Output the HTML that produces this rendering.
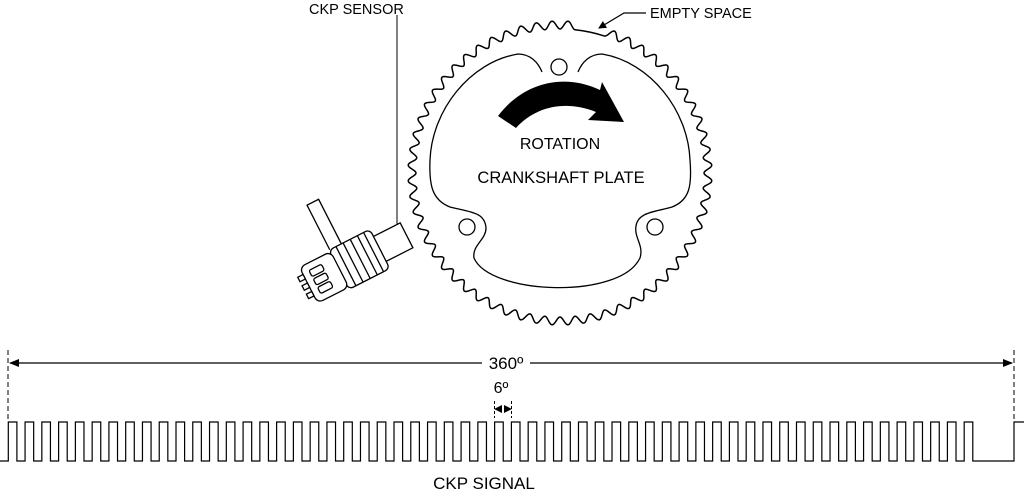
<!DOCTYPE html>
<html><head><meta charset="utf-8"><style>
html,body{margin:0;padding:0;background:#fff;}
svg{display:block;font-family:"Liberation Sans",Arial,sans-serif;}
</style></head><body>
<svg id="s" width="1024" height="495" viewBox="0 0 1024 495" xmlns="http://www.w3.org/2000/svg">
<defs>
<marker id="ah" markerWidth="8" markerHeight="8" refX="7" refY="4" orient="auto" markerUnits="userSpaceOnUse"><path d="M0,0 L8,4 L0,8 z" fill="#000"/></marker>
<marker id="ah2" markerWidth="10" markerHeight="8" refX="9" refY="4" orient="auto" markerUnits="userSpaceOnUse"><path d="M0,0 L10,4 L0,8 z" fill="#000"/></marker>
</defs>
<g fill="none" stroke="#000" stroke-width="1.3">
<path id="gear" stroke-width="1.5"/>
<path d="M542,72 C538,62 530,54 518,54 C470,62 432,110 430,160 C429,185 432,200 450,207 C470,212 485,212 486,228 C486,240 472,245 474,258 C490,295 620,300 640,258 C644,245 634,238 636,226 C638,212 655,212 672,207 C690,200 692,185 690,160 C688,110 650,62 602,54 C590,54 582,62 578,72"/>
<circle cx="559" cy="67" r="8"/>
<circle cx="467" cy="227" r="8"/>
<circle cx="655" cy="227" r="8"/>
<line x1="397" y1="15" x2="397" y2="236" stroke-width="1"/>
<polyline points="646,13 624,13 599,28" stroke-width="1.2" marker-end="url(#ah)"/>
</g>
<path d="M498,116 C522,84 562,72 600,90 L602,82 L624,122 L588,120 L596,112 C566,100 536,106 516,128 Z" fill="#000"/>
<g transform="translate(362,258) rotate(-27)" fill="#fff" stroke="#000" stroke-width="1.3">
<path d="M-25,-22 L-25,-72 L-12,-72 L-12,-22"/>
<rect x="18" y="-14" width="32" height="28"/>
<rect x="-26" y="-22" width="46" height="44" rx="5"/>
<line x1="-18" y1="-22" x2="-18" y2="22"/><line x1="-10" y1="-22" x2="-10" y2="22"/>
<line x1="-2" y1="-22" x2="-2" y2="22"/><line x1="6" y1="-22" x2="6" y2="22"/>
<line x1="13" y1="-22" x2="13" y2="22"/>
<rect x="-60" y="-20" width="35" height="40" rx="6"/>
<rect x="-53" y="-13" width="14" height="7" rx="2"/><rect x="-53" y="-3.5" width="14" height="7" rx="2"/><rect x="-53" y="6" width="14" height="7" rx="2"/>
<rect x="-66" y="-12" width="6" height="5"/><rect x="-66" y="-2.5" width="6" height="5"/><rect x="-66" y="7" width="6" height="5"/>
</g>
<g font-size="14.5" fill="#000">
<text x="309" y="14">CKP SENSOR</text>
<text x="650" y="18">EMPTY SPACE</text>
<text x="560" y="149" text-anchor="middle" font-size="16">ROTATION</text>
<text x="561" y="183" text-anchor="middle" font-size="16.5">CRANKSHAFT PLATE</text>
<text x="484" y="489" text-anchor="middle" font-size="17">CKP SIGNAL</text>
<text x="506" y="369" text-anchor="middle" font-size="17">360º</text>
<text x="501" y="393" text-anchor="middle" font-size="16">6º</text>
</g>
<g fill="none" stroke="#000">
<line x1="8" y1="350" x2="8" y2="422" stroke-dasharray="5,3"/>
<line x1="1014" y1="350" x2="1014" y2="422" stroke-dasharray="5,3"/>
<line x1="482" y1="363" x2="10" y2="363" stroke-width="1.2" marker-end="url(#ah2)"/>
<line x1="530" y1="363" x2="1012" y2="363" stroke-width="1.2" marker-end="url(#ah2)"/>
<line x1="494.5" y1="401" x2="494.5" y2="418" stroke-dasharray="3,2"/>
<line x1="511.5" y1="401" x2="511.5" y2="418" stroke-dasharray="3,2"/>
<line x1="500" y1="409" x2="495" y2="409" marker-end="url(#ah)"/>
<line x1="505" y1="409" x2="511" y2="409" marker-end="url(#ah)"/>
<path id="sig" stroke-width="1.2"/>
</g>
</svg>
<script>
(function(){
var cx=560,cy=173,R1=143,h=8,d="";
function P(a,r){var t=(a-90)*Math.PI/180;return [(cx+r*Math.cos(t)).toFixed(2),(cy+r*Math.sin(t)).toFixed(2)];}
var first=true;
for(var i=0;i<60;i++){
 var a=i*6;
 if(i==1||i==2){var p=P(a+6,R1+1);d+=" A"+(R1+1)+","+(R1+1)+" 0 0 1 "+p[0]+","+p[1];continue;}
 for(var j=0;j<=16;j++){var t=j/16;var r=R1+1+h*(0.5-0.5*Math.cos(2*Math.PI*t));
  var p=P(a+6*t,r);
  if(first){d+="M"+p[0]+","+p[1];first=false;} else d+=" L"+p[0]+","+p[1];}
}
d+=" Z";
document.getElementById("gear").setAttribute("d",d);
var s="M0,461 L8.3,461",per=16.77,x0=8.3;
for(var k=0;k<58;k++){var x=x0+k*per;s+=" L"+x.toFixed(2)+",422 L"+(x+8.6).toFixed(2)+",422 L"+(x+8.6).toFixed(2)+",461 L"+(x+per).toFixed(2)+",461";}
s+=" L1014,461 L1014,422 L1024,422";
document.getElementById("sig").setAttribute("d",s);
})();
</script>
</body></html>
